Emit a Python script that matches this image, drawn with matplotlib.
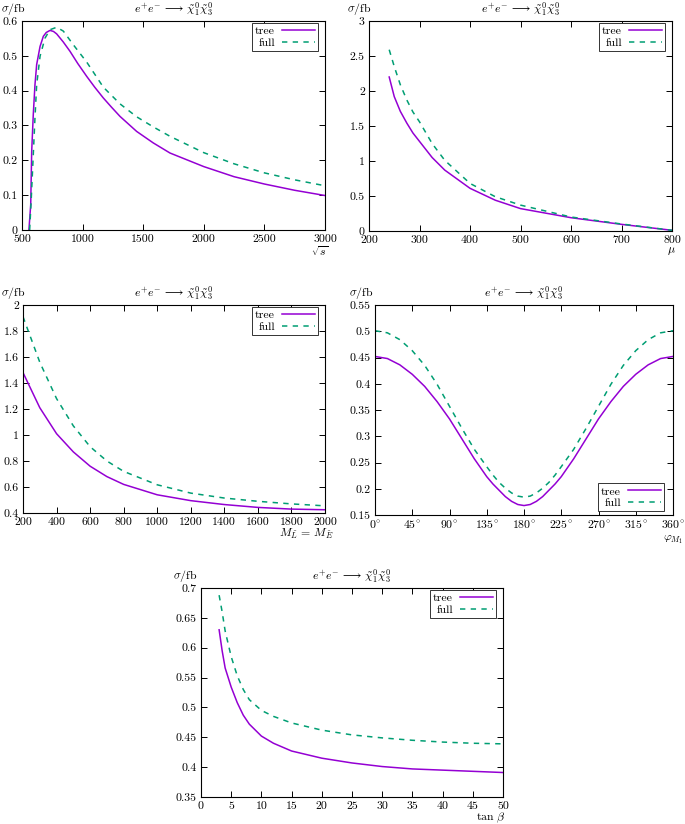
import matplotlib
matplotlib.use("Agg")
from matplotlib import pyplot as plt
from matplotlib.ticker import FuncFormatter

# sqrt(s) scan
sqrt_s_tree = [557, 572, 580, 593, 607, 621, 649, 676, 700, 731, 760, 786, 840, 896, 960, 1034, 1100, 1171,
               1240, 1309, 1446, 1583, 1721, 2000, 2250, 2500, 2750, 3000]
sigma_s_tree = [0.0, 0.073, 0.226, 0.331, 0.417, 0.475, 0.527, 0.556, 0.567, 0.573, 0.570, 0.563, 0.540, 0.513,
                0.478, 0.441, 0.41, 0.379, 0.352, 0.326, 0.283, 0.25, 0.221, 0.182, 0.153, 0.132, 0.114, 0.099]
sqrt_s_full = [563, 575, 588, 607, 621, 649, 690, 731, 786, 841, 923, 1034, 1171, 1309, 1446, 1583, 1721,
               2000, 2250, 2500, 2750, 3000]
sigma_s_full = [0.0, 0.08, 0.178, 0.322, 0.417, 0.499, 0.551, 0.575, 0.582, 0.571, 0.532, 0.482, 0.41, 0.362,
                0.325, 0.296, 0.269, 0.222, 0.19, 0.164, 0.144, 0.127]

# mu scan
mu_values = [240, 250, 262, 275, 287, 300, 325, 350, 400, 450, 500, 600, 700, 800]
sigma_mu_tree = [2.2, 1.92, 1.71, 1.54, 1.40, 1.28, 1.05, 0.87, 0.61, 0.44, 0.32, 0.19, 0.095, 0.01]
sigma_mu_full = [2.59, 2.35, 2.09, 1.87, 1.70, 1.56, 1.25, 1.01, 0.68, 0.49, 0.37, 0.2, 0.1, 0.01]

# slepton mass scan
m_slepton = [200, 300, 400, 500, 600, 700, 800, 1000, 1200, 1400, 1600, 1800, 2000]
sigma_m_tree = [1.48, 1.21, 1.01, 0.87, 0.76, 0.68, 0.62, 0.54, 0.495, 0.465, 0.443, 0.43, 0.425]
sigma_m_full = [1.91, 1.56, 1.28, 1.07, 0.91, 0.80, 0.72, 0.617, 0.553, 0.515, 0.49, 0.47, 0.455]

# phase of M1 scan
phi_values = [0, 15, 30, 45, 60, 75, 90, 105, 120, 135, 142.5, 150, 157.5, 165, 172.5, 180,
              187.5, 195, 202.5, 210, 217.5, 225, 240, 255, 270, 285, 300, 315, 330, 345, 360]
sigma_phi_tree = [0.452, 0.448, 0.436, 0.418, 0.395, 0.366, 0.333, 0.295, 0.257, 0.223, 0.209, 0.197, 0.185,
                  0.176, 0.170, 0.168,
                  0.170, 0.176, 0.185, 0.197, 0.209, 0.223, 0.257, 0.295, 0.333, 0.366, 0.395, 0.418, 0.436,
                  0.448, 0.452]
sigma_phi_full = [0.501, 0.497, 0.484, 0.463, 0.435, 0.399, 0.357, 0.315, 0.275, 0.242, 0.226, 0.212, 0.201,
                  0.192, 0.186, 0.184,
                  0.186, 0.192, 0.201, 0.212, 0.226, 0.242, 0.275, 0.315, 0.357, 0.399, 0.435, 0.463, 0.484,
                  0.497, 0.501]

# tan beta scan
tanb_values = [3, 3.5, 4, 5, 6, 7, 8, 10, 12, 15, 20, 25, 30, 35, 40, 45, 50]
sigma_tb_tree = [0.630, 0.595, 0.566, 0.534, 0.508, 0.487, 0.472, 0.452, 0.440, 0.427, 0.415, 0.407, 0.401,
                 0.397, 0.395, 0.393, 0.391]
sigma_tb_full = [0.688, 0.66, 0.628, 0.585, 0.553, 0.530, 0.513, 0.495, 0.485, 0.474, 0.462, 0.454, 0.449,
                 0.445, 0.442, 0.440, 0.439]

W, H = 685, 824
TREE_COLOR = "#9400d3"
FULL_COLOR = "#009e73"
TITLE = r"$e^{+}e^{-}\,\longrightarrow\,\tilde{\chi}^{0}_{1}\tilde{\chi}^{0}_{3}$"

plt.rcParams["font.family"] = "serif"
plt.rcParams["font.serif"] = ["cmr10", "DejaVu Serif"]
plt.rcParams["mathtext.fontset"] = "cm"
plt.rcParams["axes.unicode_minus"] = False
plt.rcParams["axes.formatter.use_mathtext"] = True
plt.rcParams["font.size"] = 8.5


def make_panel(fig, left, right, top, bottom, xs, tree, full, xlim, ylim, xticks, yticks,
               xlabel, legend_loc="upper right", degrees=False, xlabel_off=(0, -21), sigma_dx=-12):
    ax = fig.add_axes([left / W, 1 - bottom / H, (right - left) / W, (bottom - top) / H])
    ax.plot(xs[0], tree, color=TREE_COLOR, lw=1.1, label="tree")
    ax.plot(xs[1], full, color=FULL_COLOR, lw=1.1, linestyle=(0, (3.5, 3.5)), label="full")

    ax.set_xlim(*xlim)
    ax.set_ylim(*ylim)
    ax.set_xticks(xticks)
    ax.set_yticks(yticks)
    if degrees:
        ax.xaxis.set_major_formatter(FuncFormatter(lambda v, p: r"$%d^{\circ}$" % round(v)))
    else:
        ax.xaxis.set_major_formatter(FuncFormatter(lambda v, p: "%g" % round(v, 4)))
    ax.yaxis.set_major_formatter(FuncFormatter(lambda v, p: "%g" % round(v, 4)))
    ax.tick_params(direction="in", top=True, right=True, length=4, width=0.7, pad=3, labelsize=8.5)
    for s in ax.spines.values():
        s.set_linewidth(0.8)

    # gnuplot style labels: sigma at the top left, variable at the bottom right
    ax.annotate(r"$\sigma/\mathrm{fb}$", xy=(0, 1), xycoords="axes fraction",
                xytext=(sigma_dx, 12), textcoords="offset pixels", ha="center", va="center", fontsize=8.5)
    ax.annotate(TITLE, xy=(0.5, 1), xycoords="axes fraction",
                xytext=(0, 12), textcoords="offset pixels", ha="center", va="center", fontsize=8.5)
    ax.annotate(xlabel, xy=(1, 0), xycoords="axes fraction",
                xytext=xlabel_off, textcoords="offset pixels", ha="right", va="center", fontsize=8.5)

    # legend box sits a few pixels inside the corner
    w, h = right - left, bottom - top
    if legend_loc == "upper right":
        anchor = (1 - 7 / w, 1 - 2 / h)
    else:
        anchor = (1 - 9 / w, 4 / h)
    leg = ax.legend(loc=legend_loc, bbox_to_anchor=anchor, markerfirst=False, fancybox=False, framealpha=1,
                    edgecolor="#333333", handlelength=2.8, handletextpad=0.6, borderpad=0.25,
                    labelspacing=0.1, borderaxespad=0, fontsize=8.5)
    leg.get_frame().set_linewidth(0.7)
    return ax


fig = plt.figure(figsize=(W / 100, H / 100), dpi=100)

make_panel(fig, 22, 325, 21, 230, (sqrt_s_tree, sqrt_s_full), sigma_s_tree, sigma_s_full,
           (500, 3000), (0, 0.6), [500, 1000, 1500, 2000, 2500, 3000],
           [0, 0.1, 0.2, 0.3, 0.4, 0.5, 0.6], r"$\sqrt{s}$", xlabel_off=(3, -21), sigma_dx=-9)

make_panel(fig, 369, 672, 21, 231, (mu_values, mu_values), sigma_mu_tree, sigma_mu_full,
           (200, 800), (0, 3), [200, 300, 400, 500, 600, 700, 800],
           [0, 0.5, 1, 1.5, 2, 2.5, 3], r"$\mu$", xlabel_off=(4, -20), sigma_dx=-10)

make_panel(fig, 23, 325, 305, 513, (m_slepton, m_slepton), sigma_m_tree, sigma_m_full,
           (200, 2000), (0.4, 2), list(range(200, 2001, 200)),
           [0.4, 0.6, 0.8, 1, 1.2, 1.4, 1.6, 1.8, 2], r"$M_{\tilde{L}}\,=\,M_{\tilde{E}}$",
           xlabel_off=(8, -21), sigma_dx=-10)

make_panel(fig, 375, 673, 305, 515, (phi_values, phi_values), sigma_phi_tree, sigma_phi_full,
           (0, 360), (0.15, 0.55), list(range(0, 361, 45)),
           [0.15, 0.2, 0.25, 0.3, 0.35, 0.4, 0.45, 0.5, 0.55], r"$\varphi_{M_1}$",
           legend_loc="lower right", degrees=True, xlabel_off=(10, -25), sigma_dx=-14)

make_panel(fig, 201, 503, 588, 797, (tanb_values, tanb_values), sigma_tb_tree, sigma_tb_full,
           (0, 50), (0.35, 0.7), list(range(0, 51, 5)),
           [0.35, 0.4, 0.45, 0.5, 0.55, 0.6, 0.65, 0.7], r"$\tan\,\beta$",
           xlabel_off=(2, -21), sigma_dx=-16)

fig.savefig("out.png", dpi=100)
